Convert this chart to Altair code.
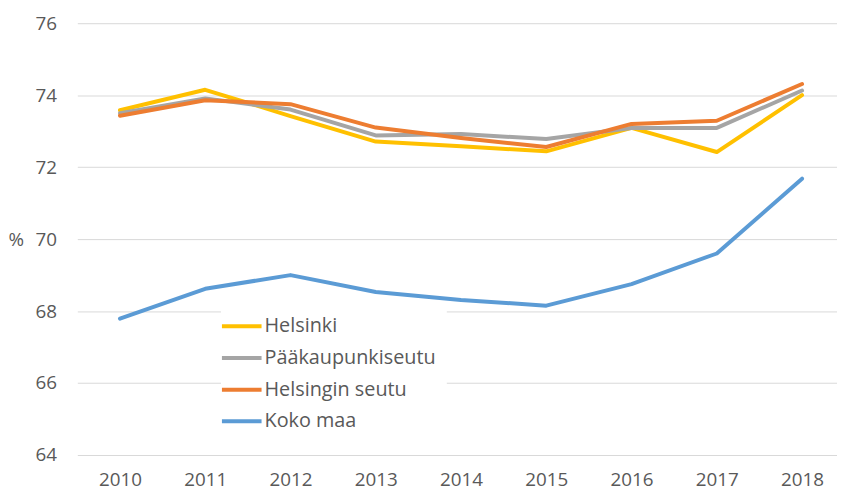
import altair as alt
import pandas as pd

years = [2010, 2011, 2012, 2013, 2014, 2015, 2016, 2017, 2018]
series_names = ["Helsinki", "Pääkaupunkiseutu", "Helsingin seutu", "Koko maa"]
helsinki = [73.58, 74.15, 73.42, 72.71, 72.58, 72.44, 73.09, 72.42, 74.00]
paakaupunkiseutu = [73.50, 73.91, 73.60, 72.88, 72.92, 72.78, 73.09, 73.09, 74.13]
helsingin_seutu = [73.43, 73.86, 73.75, 73.10, 72.81, 72.56, 73.20, 73.29, 74.31]
koko_maa = [67.79, 68.62, 69.00, 68.53, 68.31, 68.15, 68.75, 69.60, 71.68]
colors = ["#FFC000", "#A5A5A5", "#ED7D31", "#5B9BD5"]
y_ticks = [64, 66, 68, 70, 72, 74, 76]

rows = []
for name, vals in zip(series_names, [helsinki, paakaupunkiseutu, helsingin_seutu, koko_maa]):
    for yr, v in zip(years, vals):
        rows.append({"Vuosi": yr, "Arvo": v, "Alue": name})
df = pd.DataFrame(rows)

FONT = "Open Sans"
TXT = "#595959"

chart = alt.Chart(df).mark_line(strokeWidth=4, strokeCap="round", strokeJoin="round").encode(
    x=alt.X("Vuosi:Q",
            scale=alt.Scale(domain=[2009.5, 2018.41], nice=False, zero=False),
            axis=alt.Axis(values=years, format="d", grid=False, domain=False, ticks=False,
                          labelFont=FONT, labelFontSize=19, labelColor=TXT, labelPadding=16,
                          title=None, labelFlush=False)),
    y=alt.Y("Arvo:Q",
            scale=alt.Scale(domain=[64, 76], nice=False, zero=False),
            axis=alt.Axis(values=y_ticks, grid=True, gridColor="#D9D9D9", gridWidth=1,
                          domain=False, ticks=False, labelFont=FONT, labelFontSize=19,
                          labelColor=TXT, labelPadding=21,
                          title="%", titleAngle=0, titleFont=FONT, titleFontSize=19,
                          titleFontWeight="normal", titleColor=TXT, titleAlign="left",
                          titleBaseline="middle", titleX=-70, titleY=218)),
    color=alt.Color("Alue:N",
                    scale=alt.Scale(domain=series_names, range=colors),
                    legend=alt.Legend(orient="none", legendX=145, legendY=284, title=None,
                                      symbolType="M-2.1,0H1.9", symbolSize=400,
                                      symbolStrokeWidth=4, labelLimit=400,
                                      labelFont=FONT, labelFontSize=20, labelColor=TXT,
                                      labelOffset=10, rowPadding=10, padding=10,
                                      fillColor="white", strokeColor="white")),
).properties(
    width=767, height=436,
    autosize=alt.AutoSizeParams(type="none"),
    padding={"left": 70, "top": 13, "right": 0, "bottom": 36},
).configure_view(stroke=None)

chart.save("out.html", embed_options={"renderer": "svg", "actions": False})
